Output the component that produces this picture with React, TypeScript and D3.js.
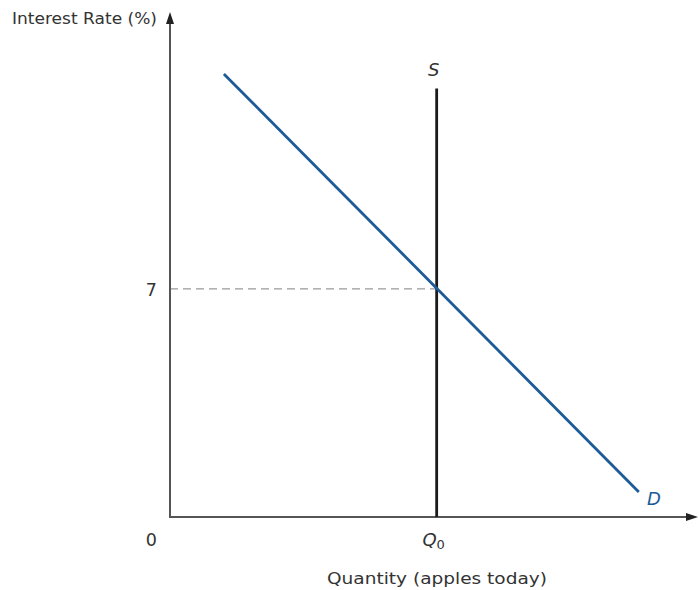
import React from "react";
import * as d3 from "d3";

const W = 699;
const H = 590;

const xDomain = [0, 9.9];
const yDomain = [0, 15.5];
const Q0 = 5;
const rate = 7;
const supplyRates = [0, 13.15];
const demandQ = [1.01, 8.79];
const demandR = [13.6, 0.77];
const yTickLabels = ["7"];
const labels = { yAxis: "Interest Rate (%)", xAxis: "Quantity (apples today)", supply: "S", demand: "D", origin: "0" };

export default function App() {
  const x = d3.scaleLinear().domain(xDomain).range([170, 698]);
  const y = d3.scaleLinear().domain(yDomain).range([517, 12]);
  const line = d3.line<[number, number]>().x((d) => x(d[0])).y((d) => y(d[1]));
  const demandPts: [number, number][] = demandQ.map((q, i) => [q, demandR[i]]);
  const supplyPts: [number, number][] = supplyRates.map((r) => [Q0, r]);
  const font = "'DejaVu Sans', sans-serif";
  const tc = "#333";
  const fs = 15.5;
  return (
    <svg width={W} height={H} style={{ position: "absolute", left: 0, top: 0 }} fontFamily={font}>
      <rect width={W} height={H} fill="#fff" />
      {/* dashed guide */}
      <path d={line([[0, rate], [Q0, rate]])!} stroke="#999" strokeWidth={1.2} strokeDasharray="8,5" fill="none" />
      {/* axes */}
      <line x1={x(0)} y1={y(0)} x2={x(0)} y2={y(yDomain[1]) + 8} stroke="#555" strokeWidth={2} />
      <line x1={x(0) - 1} y1={y(0)} x2={x(xDomain[1]) - 8} y2={y(0)} stroke="#555" strokeWidth={2} />
      <path d={`M${x(0)},${y(yDomain[1])} l-4,12 l8,0 z`} fill="#222" />
      <path d={`M${x(xDomain[1])},${y(0)} l-12,-4 l0,8 z`} fill="#222" />
      {/* supply */}
      <path d={line(supplyPts)!} stroke="#1a1a1a" strokeWidth={2.8} fill="none" />
      {/* demand */}
      <path d={line(demandPts)!} stroke="#1d5b98" strokeWidth={2.8} fill="none" />
      {/* labels */}
      <text x={12} y={24} fontSize={fs} fill={tc} textLength={145} lengthAdjust="spacingAndGlyphs">{labels.yAxis}</text>
      {yTickLabels.map((t) => (
        <text key={t} x={x(0) - 13} y={y(+t) + 7} fontSize={17.5} fill={tc} textAnchor="end">{t}</text>
      ))}
      <text x={x(0) - 13} y={546} fontSize={17.5} fill={tc} textAnchor="end">{labels.origin}</text>
      <text x={x(Q0) - 3} y={546} fontSize={18} fill={tc} textAnchor="middle" fontStyle="italic">
        Q<tspan fontSize={13} dy={3} fontStyle="normal">0</tspan>
      </text>
      <text x={327} y={584} fontSize={fs} fill={tc} textLength={220} lengthAdjust="spacingAndGlyphs">{labels.xAxis}</text>
      <text x={x(Q0) - 3} y={76} fontSize={18} fill={tc} textAnchor="middle" fontStyle="italic">{labels.supply}</text>
      <text x={647} y={505} fontSize={18} fill="#1d5b98" fontStyle="italic">{labels.demand}</text>
    </svg>
  );
}
